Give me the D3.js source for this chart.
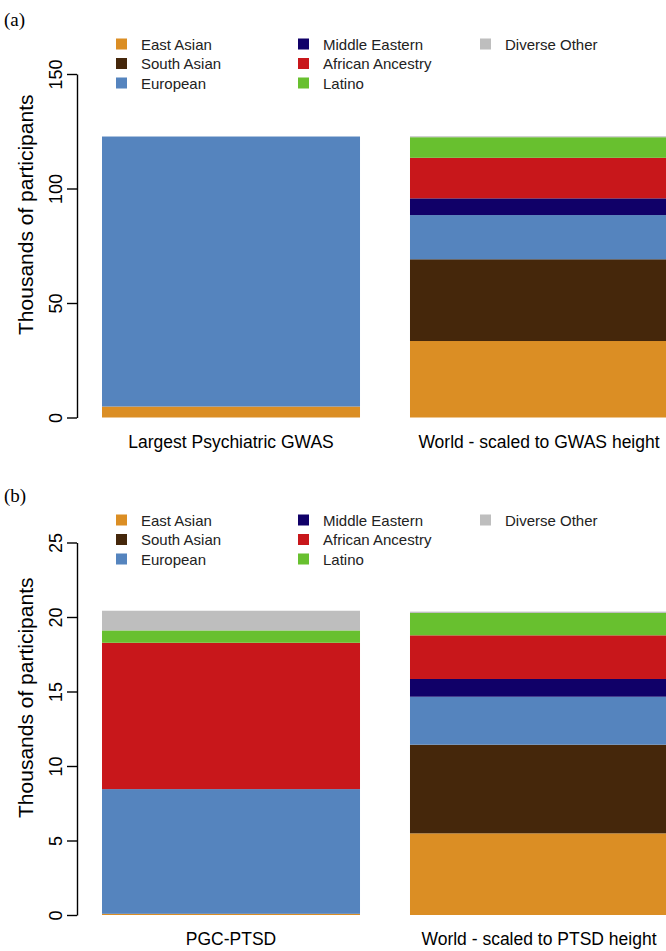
<!DOCTYPE html>
<html>
<head>
<meta charset="utf-8">
<script src="https://cdn.jsdelivr.net/npm/d3@7"></script>
<style>
  body { margin: 0; background: #fff; }
  svg { display: block; font-family: "Liberation Sans", Arial, sans-serif; }
  .axis text { font-size: 18px; fill: #000; }
  .axis path, .axis line { stroke: #000; stroke-width: 1.4; }
</style>
</head>
<body>
<svg id="chart" width="666" height="951"></svg>
<script>
// ancestry groups, stacked bottom to top
const groups = ["East Asian", "South Asian", "European", "Middle Eastern", "African Ancestry", "Latino", "Diverse Other"];
const groupColors = ["#DB8E24", "#45270B", "#5584BE", "#100068", "#C8171B", "#68C02F", "#BEBEBE"];

// panel (a), thousands of participants
const gwasBars = ["Largest Psychiatric GWAS", "World - scaled to GWAS height"];
const gwasStudy = [4.8, 0, 117.9, 0, 0, 0, 0];
const gwasWorld = [33.4, 35.7, 19.3, 7.3, 17.7, 9.0, 0.4];
const gwasTicks = [0, 50, 100, 150];

// panel (b), thousands of participants
const ptsdBars = ["PGC-PTSD", "World - scaled to PTSD height"];
const ptsdStudy = [0.08, 0, 8.37, 0, 9.82, 0.83, 1.32];
const ptsdWorld = [5.48, 5.95, 3.22, 1.19, 2.93, 1.50, 0.09];
const ptsdTicks = [0, 5, 10, 15, 20, 25];

const svg = d3.select("#chart");
const color = d3.scaleOrdinal().domain(groups).range(groupColors);

function panel(top, tag, bars, study, world, ticks, yBottom, yTop) {
    let rows = [study, world].map((vals, i) => {
        let r = {bar: bars[i]};
        groups.forEach((g, j) => r[g] = vals[j]);
        return r;
    });
    let series = d3.stack().keys(groups)(rows);

    let xScale = d3.scaleBand().domain(bars).range([102, 668]).paddingInner(0.1623).paddingOuter(0);
    let yScale = d3.scaleLinear().domain([0, ticks[ticks.length - 1]]).range([yBottom, yTop]);

    let g = svg.append("g");

    g.selectAll(".layer")
        .data(series)
        .enter()
        .append("g")
        .attr("fill", d => color(d.key))
        .selectAll("rect")
        .data(d => d)
        .enter()
        .append("rect")
        .attr("x", d => xScale(d.data.bar))
        .attr("width", xScale.bandwidth())
        .attr("y", d => yScale(d[1]))
        .attr("height", d => yScale(d[0]) - yScale(d[1]));

    let y_axis = d3.axisLeft(yScale).tickValues(ticks).tickSize(10).tickSizeOuter(0).tickPadding(0);
    let ax = g.append("g").attr("class", "axis")
        .attr("transform", "translate(77,0)")
        .call(y_axis);
    ax.selectAll(".tick text")
        .attr("x", 0).attr("dy", 0)
        .attr("text-anchor", "middle")
        .attr("transform", "translate(-15,0) rotate(-90)");

    // bar labels
    g.selectAll(".barlabel")
        .data(bars)
        .enter()
        .append("text")
        .attr("x", d => xScale(d) + xScale.bandwidth() / 2)
        .attr("y", yBottom + 30)
        .attr("text-anchor", "middle")
        .style("font-size", "17.5px")
        .text(d => d);

    // y label
    g.append("text")
        .attr("transform", `translate(33,${(yBottom + yTop) / 2 - 31}) rotate(-90)`)
        .attr("text-anchor", "middle")
        .style("font-size", "21px")
        .text("Thousands of participants");

    // panel tag
    g.append("text")
        .attr("x", 4)
        .attr("y", top + 26)
        .style("font-family", "'Liberation Serif', 'Times New Roman', serif")
        .style("font-size", "19px")
        .text(tag);

    // legend, three per column
    let legend = g.selectAll(".legend")
        .data(groups)
        .enter()
        .append("g")
        .attr("transform", (d, i) => `translate(${116 + Math.floor(i / 3) * 182},${top + 44 + (i % 3) * 19.5})`);
    legend.append("rect")
        .attr("x", 0).attr("y", -5.5)
        .attr("width", 11).attr("height", 11)
        .attr("fill", d => color(d));
    legend.append("text")
        .attr("x", 25).attr("y", 5.5)
        .style("font-size", "15px")
        .style("fill", "#222")
        .text(d => d);
}

panel(0, "(a)", gwasBars, gwasStudy, gwasWorld, gwasTicks, 417.5, 74);
panel(476, "(b)", ptsdBars, ptsdStudy, ptsdWorld, ptsdTicks, 915, 542.5);
</script>
</body>
</html>
